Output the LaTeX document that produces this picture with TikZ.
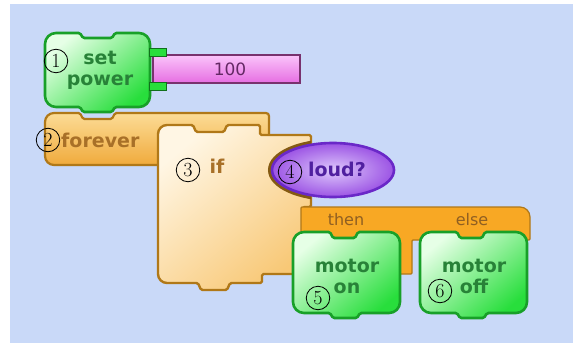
\documentclass[tikz,border=0pt]{standalone}
\usepackage{fontspec}
\newfontfamily\dv{DejaVu Sans}
\definecolor{bgc}{RGB}{201,217,248}
\definecolor{gtop}{RGB}{230,255,230}
\definecolor{gbot}{RGB}{40,222,60}
\definecolor{gbrd}{RGB}{24,160,40}
\definecolor{gtxt}{RGB}{40,130,56}
\definecolor{otop}{RGB}{252,220,150}
\definecolor{obot}{RGB}{240,170,60}
\definecolor{obrd}{RGB}{176,120,24}
\definecolor{otxt}{RGB}{168,112,40}
\definecolor{ctop}{RGB}{255,246,228}
\definecolor{cbot}{RGB}{248,200,118}
\definecolor{barc}{RGB}{248,168,36}
\definecolor{ptop}{RGB}{250,196,250}
\definecolor{pbot}{RGB}{230,110,226}
\definecolor{pbrd}{RGB}{120,50,110}
\definecolor{ptxt}{RGB}{100,40,100}
\definecolor{vin}{RGB}{222,200,252}
\definecolor{vout}{RGB}{156,84,228}
\definecolor{vbrd}{RGB}{106,40,200}
\definecolor{vtxt}{RGB}{80,32,160}
\begin{document}
\begin{tikzpicture}[x=1pt,y=-1pt,
  greenblk/.style={draw=gbrd,line width=2.6pt,top color=gtop,bottom color=gbot,shading angle=40},
  orblk/.style={draw=obrd,line width=2.2pt,top color=otop,bottom color=obot},
  bodyblk/.style={draw=obrd,line width=2.4pt,top color=ctop,bottom color=cbot,shading angle=40},
  barblk/.style={draw=obrd,line width=1.2pt,fill=barc},
  pinkblk/.style={draw=pbrd,line width=1.6pt,top color=ptop,bottom color=pbot},
  purpblk/.style={draw=vbrd,line width=2.6pt,inner color=vin,outer color=vout},
  btxt/.style={font=\dv\bfseries\fontsize{19}{21}\selectfont,align=center,inner sep=0pt},
  stxt/.style={font=\dv\fontsize{16}{16}\selectfont,inner sep=0pt,text=otxt!85!black},
  num/.style={circle,draw=black,line width=0.8pt,minimum size=23.5pt,inner sep=0pt,
    font=\rmfamily\fontsize{20}{20}\selectfont,text=black}]
\useasboundingbox (0,0) rectangle (573,343);
\fill[white] (0,0) rectangle (573,343);
\fill[bgc] (10,4) rectangle (573,343);
% forever block
\draw[orblk] (45,140) [rounded corners=9] -- (45,113) [rounded corners=1.5] -- (80,113) -- (83,119) -- (112,119) -- (115,113) [rounded corners=3] -- (269,113) -- (269,165) [rounded corners=9] -- (45,165) -- cycle;
% if body
\draw[bodyblk] (158,200) [rounded corners=9] -- (158,125) [rounded corners=1.5] -- (193,125) -- (196,132) -- (224,132) -- (227,125) -- (260,125) -- (260,135) -- (311,135) -- (311,207) -- (303,207) -- (303,274) -- (262,274) -- (262,283) -- (230,283) -- (227,290) -- (201,290) -- (198,283) [rounded corners=9] -- (158,283) -- cycle;
% then / else bar
\draw[barblk] (301,207) [rounded corners=10] -- (530,207) [rounded corners=1] -- (530,240) -- (412,240) -- (412,274) -- (301,274) -- cycle;
% socket ring and condition
\begin{scope}
\clip (250,130) rectangle (311,212);
\draw[obrd!75!black,line width=6pt] (333,170) ellipse [x radius=62,y radius=28];
\end{scope}
\draw[purpblk] (333,170) ellipse [x radius=61,y radius=27];
% motor blocks
\draw[greenblk] (293,270) [rounded corners=11] -- (293,232) [rounded corners=1.5] -- (330,232) -- (333,238) -- (355,238) -- (358,232) [rounded corners=11] -- (400,232) -- (400,313) [rounded corners=1.5] -- (360,313) -- (357,318) -- (333,318) -- (330,313) [rounded corners=11] -- (293,313) -- cycle;
\draw[greenblk] (420,270) [rounded corners=11] -- (420,232) [rounded corners=1.5] -- (457,232) -- (460,238) -- (482,238) -- (485,232) [rounded corners=11] -- (527,232) -- (527,313) [rounded corners=1.5] -- (487,313) -- (484,318) -- (460,318) -- (457,313) [rounded corners=11] -- (420,313) -- cycle;
% set power block
\draw[greenblk] (45,70) [rounded corners=11] -- (45,33) [rounded corners=1.5] -- (80,33) -- (83,38) -- (112,38) -- (115,33) [rounded corners=11] -- (150,33) -- (150,107) [rounded corners=1.5] -- (115,107) -- (112,112) -- (83,112) -- (80,107) [rounded corners=11] -- (45,107) -- cycle;
% number input
\draw[pinkblk] (153,55) rectangle (300,83);
\draw[draw=gbrd!70!black,fill=gbot,line width=1pt] (149,48) rectangle (166,56);
\draw[draw=gbrd!70!black,fill=gbot,line width=1pt] (149,82) rectangle (166,90);
% texts
\node[btxt,text=gtxt] (setpw) at (100,70) {set\\power};
\node[font=\dv\fontsize{17}{17}\selectfont,inner sep=0pt,text=ptxt] (val) at (230,69) {100};
\node[btxt,text=otxt,anchor=west] (fever) at (61,140) {forever};
\node[btxt,text=otxt] (iftxt) at (217,166) {if};
\node[btxt,text=vtxt] (loud) at (337,169) {loud?};
\node[stxt] (then) at (346,220) {then};
\node[stxt] (else) at (472,220) {else};
\node[btxt,text=gtxt] (mon) at (347,276) {motor\\on};
\node[btxt,text=gtxt] (moff) at (474,276) {motor\\off};
\node[num] (n1) at (56,61) {1};
\node[num] (n2) at (48,140) {2};
\node[num] (n3) at (188,170) {3};
\node[num] (n4) at (290,172) {4};
\node[num] (n5) at (318,298) {5};
\node[num] (n6) at (440,291) {6};
\end{tikzpicture}
\end{document}
